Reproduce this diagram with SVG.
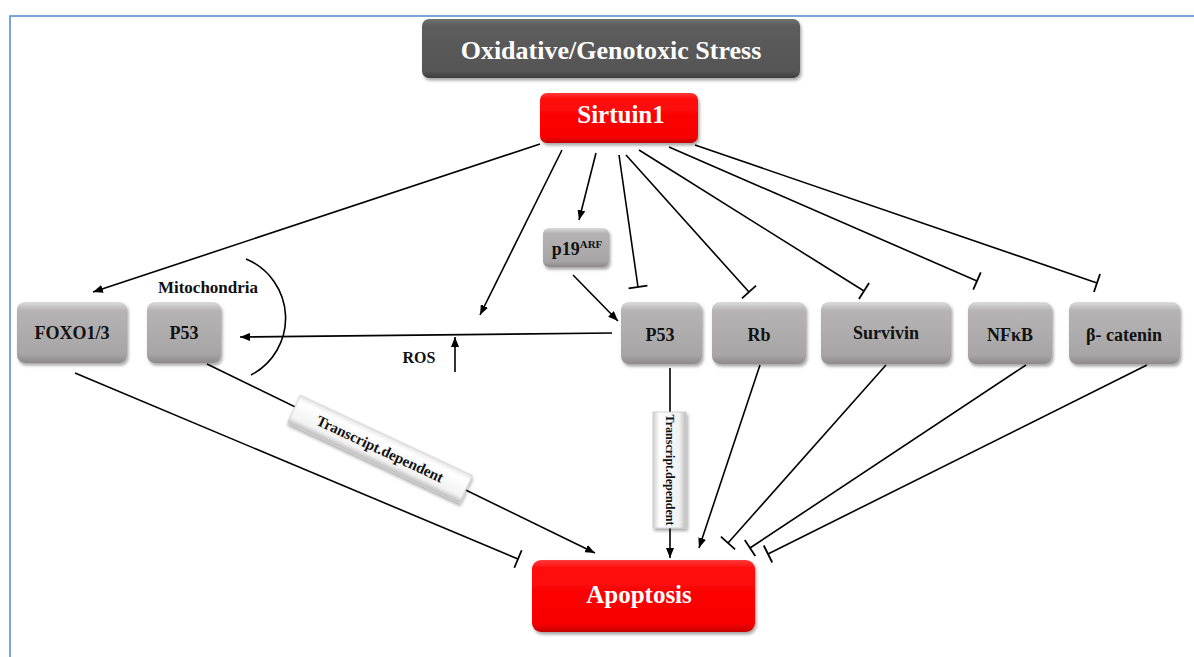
<svg xmlns="http://www.w3.org/2000/svg" width="1194" height="657" viewBox="0 0 1194 657">
<style>
.t{font-family:"Liberation Serif","Times New Roman",serif;font-weight:bold;text-anchor:middle}
.w{fill:#ffffff}
.k{fill:#111111}
.c{fill:none;stroke:#000;stroke-width:1.6}
.g{fill:url(#gGray);filter:url(#sh)}
.r{fill:url(#gRed);filter:url(#sh)}
</style>
<defs>
<linearGradient id="gGray" x1="0" y1="0" x2="0" y2="1">
<stop offset="0" stop-color="#dcdbdb"/>
<stop offset="0.14" stop-color="#b5b3b3"/>
<stop offset="0.85" stop-color="#a7a5a5"/>
<stop offset="1" stop-color="#8c8a8a"/>
</linearGradient>
<linearGradient id="gRed" x1="0" y1="0" x2="0" y2="1">
<stop offset="0" stop-color="#ff3a3a"/>
<stop offset="0.12" stop-color="#ff0a0a"/>
<stop offset="0.88" stop-color="#f80000"/>
<stop offset="1" stop-color="#c60000"/>
</linearGradient>
<linearGradient id="gDark" x1="0" y1="0" x2="0" y2="1">
<stop offset="0" stop-color="#707070"/>
<stop offset="0.12" stop-color="#5c5c5c"/>
<stop offset="0.88" stop-color="#565656"/>
<stop offset="1" stop-color="#3e3e3e"/>
</linearGradient>
<linearGradient id="gLab" x1="0" y1="0" x2="0" y2="1">
<stop offset="0" stop-color="#e6e6e6"/>
<stop offset="0.2" stop-color="#ffffff"/>
<stop offset="0.8" stop-color="#f2f2f2"/>
<stop offset="1" stop-color="#bdbdbd"/>
</linearGradient>
<linearGradient id="gLabV" x1="0" y1="0" x2="1" y2="0">
<stop offset="0" stop-color="#cfcfcf"/>
<stop offset="0.2" stop-color="#ffffff"/>
<stop offset="0.8" stop-color="#f0f0f0"/>
<stop offset="1" stop-color="#bdbdbd"/>
</linearGradient>
<filter id="sh" x="-10%" y="-10%" width="125%" height="135%">
<feDropShadow dx="1.5" dy="2.5" stdDeviation="1.8" flood-color="#000" flood-opacity="0.35"/>
</filter>
<marker id="arr" viewBox="0 0 10 8" refX="10" refY="4" markerWidth="10" markerHeight="8" orient="auto" markerUnits="userSpaceOnUse">
<path d="M0,0 L10,4 L0,8 z" fill="#000"/>
</marker>
<marker id="bar" viewBox="-2 -10 4 20" refX="0" refY="0" markerWidth="4" markerHeight="20" orient="auto" markerUnits="userSpaceOnUse">
<path d="M0,-9.5 L0,9.5" stroke="#000" stroke-width="1.8"/>
</marker>
</defs>
<rect x="0" y="0" width="1194" height="657" fill="#ffffff"/>
<rect x="10" y="16" width="1200" height="700" fill="none" stroke="#5b8ed6" stroke-width="1.6"/>

<g id="connectors">
<path class="c" d="M540,144 L93,292" marker-end="url(#arr)"/>
<path class="c" d="M562,150 L480,315" marker-end="url(#arr)"/>
<path class="c" d="M596,153 L579,220" marker-end="url(#arr)"/>
<path class="c" d="M573,275 L618,321" marker-end="url(#arr)"/>
<path class="c" d="M619,155 L638,287" marker-end="url(#bar)"/>
<path class="c" d="M626,155 L749,292" marker-end="url(#bar)"/>
<path class="c" d="M639,150 L864,291" marker-end="url(#bar)"/>
<path class="c" d="M669,147 L977,281" marker-end="url(#bar)"/>
<path class="c" d="M695,145 L1097,283" marker-end="url(#bar)"/>
<path class="c" d="M612,333 L240,337" marker-end="url(#arr)"/>
<path class="c" d="M455,372 L455,337" marker-end="url(#arr)"/>
<path class="c" d="M75,373 L518,559" marker-end="url(#bar)"/>
<path class="c" d="M207,364 L595,553" marker-end="url(#arr)"/>
<path class="c" d="M670,368 L670,558" marker-end="url(#arr)"/>
<path class="c" d="M760,365 L699,548" marker-end="url(#arr)"/>
<path class="c" d="M886,365 L728,543" marker-end="url(#bar)"/>
<path class="c" d="M1026,365 L750,548" marker-end="url(#bar)"/>
<path class="c" d="M1147,365 L768,554" marker-end="url(#bar)"/>
<path class="c" d="M246,259 A64,64 0 0 1 251,375"/>
</g>

<g id="label-transcript-diag" transform="translate(380,449) rotate(25)">
<rect x="-95" y="-15" width="190" height="30" fill="url(#gLab)" stroke="#c8c8c8" stroke-width="0.8" filter="url(#sh)"/>
<text class="t k" x="0" y="5" font-size="15">Transcript.dependent</text>
</g>
<g id="label-transcript-vert">
<rect x="653" y="412" width="33" height="116" fill="url(#gLabV)" stroke="#c8c8c8" stroke-width="0.8" filter="url(#sh)"/>
<text class="t k" font-size="12" transform="translate(666,470) rotate(90)" x="0" y="0">Transcript.dependent</text>
</g>

<g id="node-stress">
<rect x="422" y="19" width="378" height="59" rx="7" fill="url(#gDark)" filter="url(#sh)"/>
<text class="t w" x="611" y="59" font-size="26">Oxidative/Genotoxic Stress</text>
</g>
<g id="node-sirtuin1">
<rect class="r" x="540" y="93" width="158" height="50" rx="7"/>
<text class="t w" x="621" y="123" font-size="25">Sirtuin1</text>
</g>
<g id="node-p19arf">
<rect class="g" x="543" y="228" width="66" height="39" rx="6"/>
<text class="t k" x="577" y="255" font-size="18">p19<tspan font-size="11" dy="-7">ARF</tspan></text>
</g>
<g id="node-foxo">
<rect class="g" x="17" y="302" width="110" height="61" rx="8"/>
<text class="t k" x="72" y="339" font-size="18">FOXO1/3</text>
</g>
<g id="node-p53-mito">
<rect class="g" x="147" y="302" width="74" height="61" rx="8"/>
<text class="t k" x="184" y="339" font-size="18">P53</text>
</g>
<g id="label-mitochondria">
<text class="t k" x="208" y="293" font-size="17">Mitochondria</text>
</g>
<g id="label-ros">
<text class="t k" x="419" y="363" font-size="16">ROS</text>
</g>
<g id="node-p53">
<rect class="g" x="621" y="302" width="81" height="62" rx="8"/>
<text class="t k" x="660" y="341" font-size="18">P53</text>
</g>
<g id="node-rb">
<rect class="g" x="712" y="302" width="94" height="62" rx="8"/>
<text class="t k" x="759" y="341" font-size="18">Rb</text>
</g>
<g id="node-survivin">
<rect class="g" x="821" y="302" width="130" height="62" rx="8"/>
<text class="t k" x="886" y="339" font-size="18">Survivin</text>
</g>
<g id="node-nfkb">
<rect class="g" x="968" y="302" width="84" height="62" rx="8"/>
<text class="t k" x="1010" y="341" font-size="18">NFκB</text>
</g>
<g id="node-bcatenin">
<rect class="g" x="1069" y="302" width="111" height="62" rx="8"/>
<text class="t k" x="1124" y="341" font-size="18">β- catenin</text>
</g>
<g id="node-apoptosis">
<rect class="r" x="532" y="560" width="223" height="72" rx="9"/>
<text class="t w" x="639" y="603" font-size="25">Apoptosis</text>
</g>
</svg>
